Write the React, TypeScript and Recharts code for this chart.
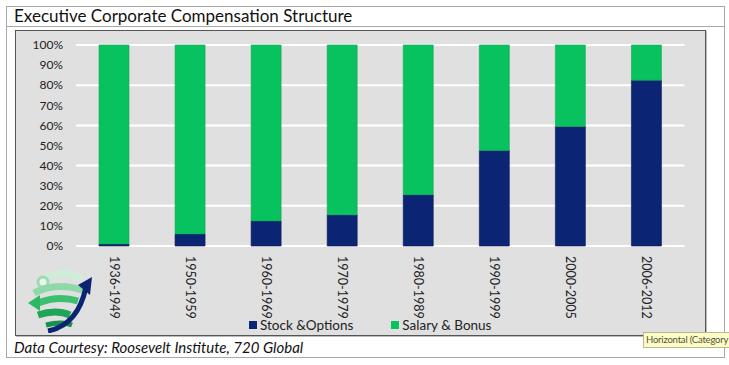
import React from "react";
import {
  BarChart,
  Bar,
  XAxis,
  YAxis,
  CartesianGrid,
  Legend,
} from "recharts";

const periods = [
  "1936-1949",
  "1950-1959",
  "1960-1969",
  "1970-1979",
  "1980-1989",
  "1990-1999",
  "2000-2005",
  "2006-2012",
];
const stockOptions = [1, 6, 12.5, 15.5, 25.5, 47.5, 59.5, 82.5];
const salaryBonus = [99, 94, 87.5, 84.5, 74.5, 52.5, 40.5, 17.5];
const yTicks = [0, 10, 20, 30, 40, 50, 60, 70, 80, 90, 100];

const data = periods.map((period, i) => ({
  period,
  stock: stockOptions[i],
  salary: salaryBonus[i],
}));

const FONT = "Lato, 'Open Sans', sans-serif";
const NAVY = "#0c2474";
const GREEN = "#07c25e";

const RotatedTick = ({ x, y, payload }: any) => (
  <g transform={`translate(${x},${y + 2}) rotate(90)`}>
    <text
      x={0}
      y={0}
      dy="0.35em"
      textAnchor="start"
      fill="#222"
      fontSize={12.5}
      fontFamily={FONT}
    >
      {payload.value}
    </text>
  </g>
);

const LegendContent = () => (
  <div
    style={{
      display: "flex",
      alignItems: "center",
      gap: 38,
      fontFamily: FONT,
      fontSize: 13.5,
      color: "#222",
    }}
  >
    <div style={{ display: "flex", alignItems: "center", gap: 3 }}>
      <span style={{ width: 8, height: 8, background: NAVY }} />
      <span>Stock &amp;Options</span>
    </div>
    <div style={{ display: "flex", alignItems: "center", gap: 3 }}>
      <span style={{ width: 8, height: 8, background: GREEN }} />
      <span>Salary &amp; Bonus</span>
    </div>
  </div>
);

// rough globe + arrow mark in the bottom-left corner
const Logo = () => (
  <svg width={68} height={66} viewBox="0 0 68 66">
    <path d="M14 14 Q34 0 56 12" stroke="#cfeed8" strokeWidth={7} fill="none" />
    <circle cx={17} cy={15} r={5} stroke="#9adcb0" strokeWidth={3} fill="#e8f6ec" />
    <path d="M8 26 Q30 14 60 24" stroke="#8fd9a8" strokeWidth={7} fill="none" />
    <path d="M12 36 Q32 28 52 34" stroke="#3cc070" strokeWidth={7} fill="none" />
    <polygon points="2,36 14,28 14,44" fill="#2fb864" />
    <path d="M12 48 Q30 42 44 48" stroke="#1ea557" strokeWidth={7} fill="none" />
    <path d="M20 58 Q36 54 46 58" stroke="#188f4a" strokeWidth={5} fill="none" />
    <path d="M22 64 Q52 58 60 20" stroke={NAVY} strokeWidth={5} fill="none" />
    <polygon points="52,18 66,10 64,28" fill={NAVY} />
  </svg>
);

const App: React.FC = () => {
  return (
    <div
      style={{
        position: "absolute",
        left: 0,
        top: 0,
        width: 729,
        height: 365,
        overflow: "hidden",
        background: "#fff",
        fontFamily: FONT,
      }}
    >
      {/* outer frame */}
      <div
        style={{
          position: "absolute",
          left: 6,
          top: 6,
          width: 717,
          height: 350,
          border: "1px solid #a8a8a8",
        }}
      />
      <div
        style={{
          position: "absolute",
          left: 6,
          top: 26,
          width: 718,
          height: 1,
          background: "#a8a8a8",
        }}
      />
      <div
        style={{
          position: "absolute",
          left: 14,
          top: 6,
          height: 20,
          lineHeight: "20px",
          fontSize: 17,
          color: "#111",
        }}
      >
        Executive Corporate Compensation Structure
      </div>

      {/* plot box */}
      <div
        style={{
          position: "absolute",
          left: 15,
          top: 30,
          width: 689,
          height: 304,
          background: "#e0e0e0",
          border: "1px solid #555",
          boxShadow: "1px 1px 0 #bbb",
        }}
      >
        <BarChart
          width={689}
          height={304}
          data={data}
          margin={{ top: 14, right: 20.5, left: 0, bottom: 0 }}
          barSize={30}
        >
          <CartesianGrid
            horizontal
            vertical={false}
            stroke="#ffffff"
            strokeWidth={2}
          />
          <XAxis
            dataKey="period"
            axisLine={false}
            tickLine={false}
            height={89}
            interval={0}
            tick={<RotatedTick />}
          />
          <YAxis
            domain={[0, 100]}
            ticks={yTicks}
            width={60}
            axisLine={false}
            tickLine={false}
            tickMargin={7}
            tickFormatter={(v) => `${v}%`}
            tick={{ fill: "#222", fontSize: 12, fontFamily: FONT }}
          />
          <Legend
            verticalAlign="middle"
            align="center"
            layout="horizontal"
            content={<LegendContent />}
            wrapperStyle={{ top: 286, left: 233, width: 260 }}
          />
          <Bar
            dataKey="stock"
            name="Stock &Options"
            stackId="a"
            fill={NAVY}
            stroke="#08194f"
            strokeWidth={0.6}
            isAnimationActive={false}
          />
          <Bar
            dataKey="salary"
            name="Salary & Bonus"
            stackId="a"
            fill={GREEN}
            stroke="#1aa653"
            strokeWidth={0.6}
            isAnimationActive={false}
          />
        </BarChart>
      </div>

      {/* logo */}
      <div style={{ position: "absolute", left: 26, top: 267 }}>
        <Logo />
      </div>

      {/* source */}
      <div
        style={{
          position: "absolute",
          left: 14,
          top: 338,
          height: 18,
          lineHeight: "18px",
          fontSize: 15,
          fontStyle: "italic",
          color: "#111",
        }}
      >
        Data Courtesy: Roosevelt Institute, 720 Global
      </div>

      {/* hover label left over in the screenshot */}
      <div
        style={{
          position: "absolute",
          left: 643,
          top: 332,
          height: 14,
          lineHeight: "14px",
          padding: "0 2px",
          background: "#fcfcc6",
          border: "1px solid #b8b890",
          fontSize: 9.5,
          letterSpacing: -0.2,
          color: "#555535",
          whiteSpace: "nowrap",
        }}
      >
        Horizontal (Category
      </div>
    </div>
  );
};

export default App;
